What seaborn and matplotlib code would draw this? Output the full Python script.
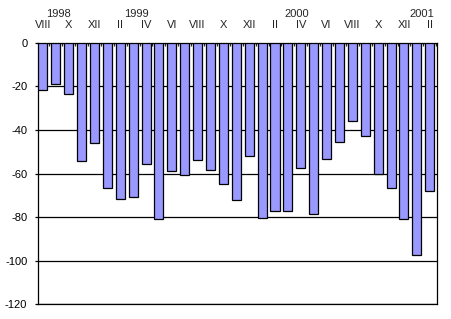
import matplotlib
matplotlib.use("Agg")
import matplotlib.pyplot as plt
import seaborn as sns
import pandas as pd
from matplotlib.ticker import FixedLocator

months = ["1998-08", "1998-09", "1998-10", "1998-11", "1998-12",
          "1999-01", "1999-02", "1999-03", "1999-04", "1999-05", "1999-06",
          "1999-07", "1999-08", "1999-09", "1999-10", "1999-11", "1999-12",
          "2000-01", "2000-02", "2000-03", "2000-04", "2000-05", "2000-06",
          "2000-07", "2000-08", "2000-09", "2000-10", "2000-11", "2000-12",
          "2001-01", "2001-02"]
values = [-21.8, -19.1, -23.7, -54.4, -46.0,
          -66.8, -71.8, -70.9, -55.8, -81.0, -59.0,
          -60.8, -53.9, -58.5, -65.0, -72.3, -52.0,
          -80.5, -77.3, -77.3, -57.6, -78.7, -53.5,
          -45.7, -36.0, -42.9, -60.4, -66.8, -81.0,
          -97.5, -68.2]
roman_labels = ["VIII", "", "X", "", "XII", "", "II", "", "IV", "", "VI", "",
                "VIII", "", "X", "", "XII", "", "II", "", "IV", "", "VI", "",
                "VIII", "", "X", "", "XII", "", "II"]
year_labels = ["1998", "1999", "2000", "2001"]
year_positions = [1.23, 7.22, 19.69, 29.37]
y_ticks = [0, -20, -40, -60, -80, -100, -120]

df = pd.DataFrame({"month": months, "value": values})

sns.set_style("white")
plt.rcParams["font.family"] = ["Liberation Sans", "DejaVu Sans"]
plt.rcParams["axes.unicode_minus"] = False

fig = plt.figure(figsize=(4.52, 3.19), dpi=100)
ax = fig.add_axes([37.7 / 452, 1 - 304.3 / 319, (437 - 37.7) / 452, (304.3 - 42.7) / 319])

sns.barplot(data=df, x="month", y="value", order=months, color="#9999FF",
            saturation=1, width=0.70, edgecolor="black", linewidth=0.9,
            errorbar=None, ax=ax, zorder=3)

ax.set_xlim(-0.40, 30.56)
ax.set_ylim(-120, 0)
ax.set_xlabel("")
ax.set_ylabel("")

# y axis
ax.set_yticks(y_ticks)
ax.set_yticklabels([str(v) for v in y_ticks], fontsize=8)
ax.yaxis.grid(True, color="black", linewidth=0.9, zorder=0)
ax.set_axisbelow(True)
ax.tick_params(axis="y", direction="out", length=2.5, width=0.9, pad=5, left=True, colors="black")

# x axis on top
ax.xaxis.tick_top()
ax.set_xticks(range(len(months)))
ax.set_xticklabels(roman_labels, fontsize=8)
ax.xaxis.set_minor_locator(FixedLocator([i + 0.5 for i in range(-1, len(months))]))
ax.tick_params(axis="x", which="major", length=0, pad=9.5, top=True, bottom=False)
ax.tick_params(axis="x", which="minor", direction="in", length=2, width=0.9, top=True, bottom=False)

for s in ax.spines.values():
    s.set_visible(True)
    s.set_color("black")
    s.set_linewidth(0.9)

for txt, pos in zip(year_labels, year_positions):
    ax.text(pos, 1.11, txt, transform=ax.get_xaxis_transform(), ha="center", va="center",
            fontsize=8, clip_on=False)

fig.savefig("out.png", dpi=100, facecolor="white")
